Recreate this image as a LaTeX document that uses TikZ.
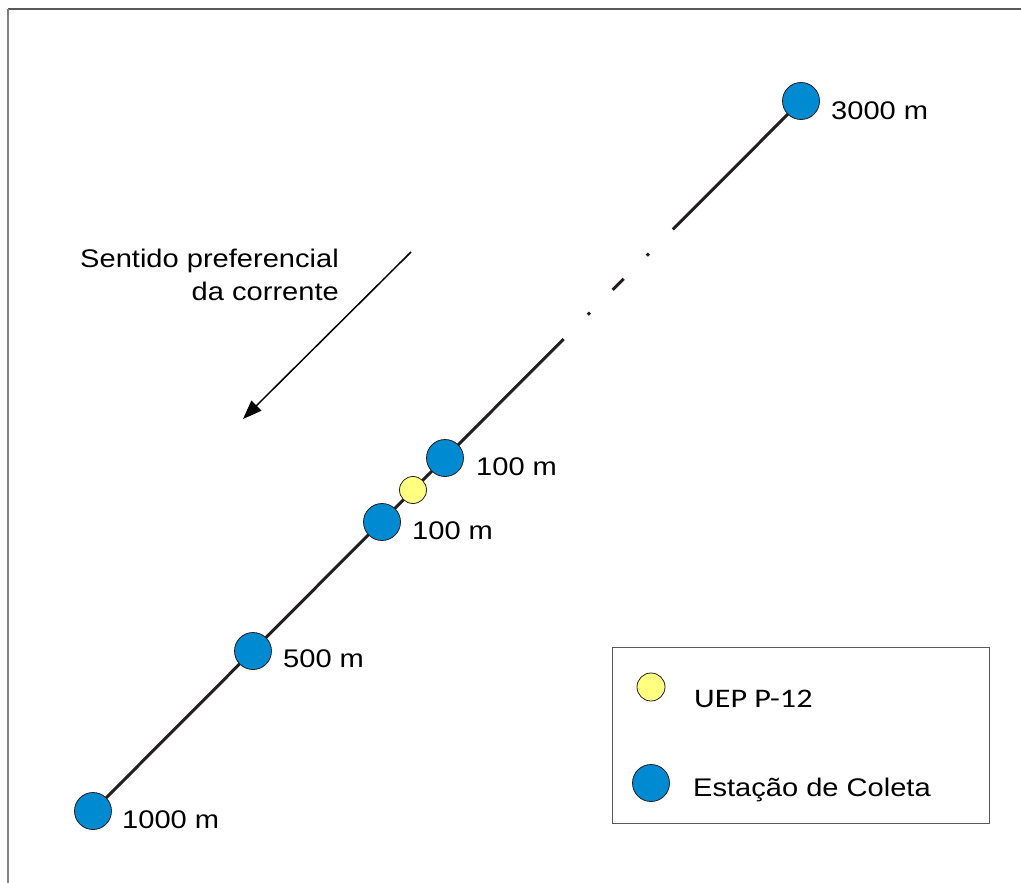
\documentclass[tikz,border=0pt]{standalone}
\usepackage{fontspec}
\setmainfont[FakeStretch=1.14]{Liberation Sans}
\newfontfamily\calfont[FakeStretch=1.2]{Carlito}
\usetikzlibrary{calc,arrows.meta}
\definecolor{stblue}{RGB}{0,138,210}
\definecolor{stylw}{RGB}{255,255,128}
\definecolor{lineblk}{RGB}{35,31,32}
\tikzset{
  mainline/.style={line width=3pt, draw=lineblk},
  station/.style={circle, draw=lineblk, line width=0.8pt, fill=stblue, minimum size=37pt, inner sep=0pt},
  uep/.style={circle, draw=lineblk, line width=0.8pt, fill=stylw, minimum size=27pt, inner sep=0pt},
  lbl/.style={anchor=base west, inner sep=0pt, font=\fontsize{25.5}{33}\selectfont, text=black},
}
\begin{document}
\begin{tikzpicture}[x=1pt,y=-1pt]
\useasboundingbox (0,0) rectangle (1021,883);
% frame
\draw[line width=2pt, draw=gray!70!black] (8,9) coordinate (ftl) -- (1021,9) coordinate (ftr);
\draw[line width=2pt, draw=gray] (ftl) -- (8,883) coordinate (fbl);

% station positions
\coordinate (p1000) at (93,811);
\coordinate (p3000) at (801,101);
% main line with gaps
\draw[mainline] (p1000) -- ($(p1000)!0.6648!(p3000)$) coordinate (g1);
\draw[mainline] ($(p1000)!0.6990!(p3000)$) coordinate (d1a) -- ($(p1000)!0.7020!(p3000)$) coordinate (d1b);
\draw[mainline] ($(p1000)!0.7341!(p3000)$) coordinate (s1a) -- ($(p1000)!0.7496!(p3000)$) coordinate (s1b);
\draw[mainline] ($(p1000)!0.7822!(p3000)$) coordinate (d2a) -- ($(p1000)!0.7852!(p3000)$) coordinate (d2b);
\draw[mainline] ($(p1000)!0.8190!(p3000)$) coordinate (g2) -- (p3000);

% stations
\node[station] (s1000) at (p1000) {};
\node[station] (s500) at (253,651) {};
\node[station] (s100a) at (382,522) {};
\node[uep] (uepnode) at (413,490) {};
\node[station] (s100b) at (445,458) {};
\node[station] (s3000) at (p3000) {};

% labels
\node[lbl] (l3000) at (831,119) {3000 m};
\node[lbl] (l100b) at (476,475) {100 m};
\node[lbl] (l100a) at (412,539) {100 m};
\node[lbl] (l500) at (283,667) {500 m};
\node[lbl] (l1000) at (122,828) {1000 m};

% current direction
\node[anchor=base east, inner sep=0pt, align=right, font=\fontsize{25.5}{33}\selectfont, text=black] (sent) at (339,300) {Sentido preferencial\\da corrente};
\coordinate (ca) at (411,252);
\coordinate (cb) at (243,419);
\draw[line width=1.5pt, draw=black, -{Triangle[length=19pt,width=14pt]}] (ca) -- (cb);

% legend
\draw[line width=1pt, draw=gray!70!black] (612,647) coordinate (lega) rectangle (989,823) coordinate (legb);
\node[uep, minimum size=28pt] (leguep) at (651,687) {};
\node[station] (legst) at (651,783) {};
\node[anchor=base west, inner sep=0pt, font=\calfont\fontsize{26.8}{30}\selectfont, text=black] (legt1) at (694,707) {UEP P-12};
\node[lbl] (legt2) at (693,796) {Estação de Coleta};
\end{tikzpicture}
\end{document}
